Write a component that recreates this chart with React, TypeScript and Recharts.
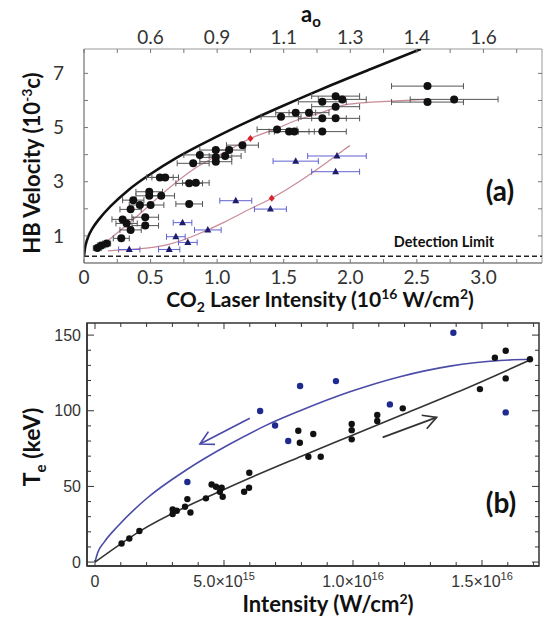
import React from 'react';
import { ComposedChart, Scatter, Line, XAxis, YAxis, ErrorBar, ReferenceLine, ReferenceArea } from 'recharts';

// ---------- panel (a): HB velocity vs CO2 laser intensity (10^16 W/cm^2) ----------
const hbX = [0.10, 0.13, 0.17, 0.28, 0.29, 0.32, 0.35, 0.35, 0.37, 0.42, 0.46, 0.46, 0.49, 0.49, 0.50,
    0.58, 0.57, 0.61, 0.79, 0.84, 0.79, 0.82, 0.87, 0.99, 0.99, 0.99, 1.06, 1.09, 1.19, 1.45, 1.54, 1.58,
    1.79, 1.48, 1.59, 1.69, 1.79, 1.89, 1.79, 1.89, 1.89, 1.94, 2.58, 2.58, 2.78];
const hbY = [0.55, 0.65, 0.72, 0.91, 1.61, 1.46, 1.22, 1.98, 2.32, 2.14, 1.69, 1.38, 2.63, 2.48, 2.14,
    2.48, 3.16, 3.16, 2.94, 2.96, 2.18, 3.68, 3.99, 4.17, 3.90, 3.74, 3.95, 4.17, 4.35, 4.93, 4.85, 4.85,
    4.85, 5.40, 5.55, 5.55, 5.34, 5.34, 5.95, 5.77, 6.16, 6.04, 6.53, 5.94, 6.04];
const hbErr = [0.03, 0.03, 0.03, 0.06, 0.08, 0.08, 0.08, 0.08, 0.08, 0.08, 0.1, 0.1, 0.1, 0.1, 0.1,
    0.1, 0.1, 0.1, 0.1, 0.1, 0.1, 0.12, 0.12, 0.12, 0.12, 0.12, 0.12, 0.12, 0.12, 0.15, 0.15, 0.15,
    0.18, 0.15, 0.15, 0.15, 0.18, 0.18, 0.18, 0.18, 0.18, 0.18, 0.27, 0.27, 0.33];

const triX = [0.34, 0.64, 0.69, 0.78, 0.74, 0.93, 1.14, 1.40, 1.59, 1.90, 1.89];
const triY = [0.50, 0.50, 0.97, 0.76, 1.49, 1.22, 2.30, 1.99, 3.76, 3.95, 3.37];
const triErr = [0.08, 0.08, 0.07, 0.07, 0.07, 0.1, 0.12, 0.12, 0.17, 0.22, 0.18];

const limitX = [0, 0.01, 0.03, 0.06, 0.11, 0.2, 0.33, 0.48, 0.7, 0.93, 1.17, 1.47, 1.85, 2.15, 2.53];
const limitY = [0.25, 0.62, 0.95, 1.25, 1.6, 2.1, 2.68, 3.22, 3.9, 4.5, 5.08, 5.75, 6.55, 7.15, 7.9];

const fitHiX = [0.14, 0.38, 0.6, 0.82, 1.0, 1.12, 1.25, 1.45, 1.6, 1.8, 1.95, 2.2, 2.6];
const fitHiY = [0.66, 1.65, 2.6, 3.45, 3.95, 4.25, 4.6, 4.97, 5.28, 5.58, 5.83, 5.95, 6.05];
const fitLoX = [0.18, 0.4, 0.63, 0.85, 1.05, 1.25, 1.41, 1.67, 1.95, 1.99];
const fitLoY = [0.45, 0.52, 0.68, 1.05, 1.5, 2.0, 2.39, 3.18, 4.17, 4.3];
const markX = [1.25, 1.41];
const markY = [4.6, 2.39];

const detectionLimit = 0.25;
const intensityTicks = [0, 0.25, 0.5, 0.75, 1, 1.25, 1.5, 1.75, 2, 2.25, 2.5, 2.75, 3, 3.25];
const a0At = [0.5, 1, 1.5, 2, 2.5, 3];
const a0Labels = ['0.6', '0.9', '1.1', '1.3', '1.4', '1.6'];
const velocityTicks = [1, 2, 3, 4, 5, 6, 7];

// ---------- panel (b): Te vs intensity (units of 10^15 W/cm^2) ----------
const teBlackX = [1.03, 1.33, 1.72, 3.01, 3.01, 3.17, 3.58, 3.49, 3.70, 4.30, 4.52, 4.69, 4.84, 4.91, 4.95,
    5.78, 5.97, 5.98, 7.88, 7.94, 8.27, 8.46, 8.75, 9.95, 9.95, 9.95, 10.94, 10.94, 11.93, 14.92, 15.50,
    15.92, 15.92, 16.86];
const teBlackY = [12.3, 15.6, 20.5, 34.8, 31.7, 33.9, 41.6, 36.6, 32.8, 42.1, 51.3, 49.8, 46.5, 49.1, 43.2,
    46.5, 49.1, 59.0, 86.8, 78.9, 69.6, 84.6, 69.6, 91.2, 87.2, 81.1, 97.2, 93.2, 101.6, 114.3, 135.0,
    139.7, 121.4, 134.0];
const teBlueX = [3.58, 6.40, 6.98, 7.49, 7.95, 9.34, 11.43, 13.89, 15.92];
const teBlueY = [52.9, 99.8, 90.3, 80.0, 116.4, 119.6, 104.2, 151.6, 98.9];

const fitBlackX = [0, 1.7, 5, 8, 10, 12, 14, 16.86];
const fitBlackY = [0, 20, 48, 70, 84, 98, 112, 133.5];
const fitBlueX = [0, 0.1, 0.35, 0.9, 2.0, 3.55, 5.23, 6.65, 7.95, 9.88, 11.82, 13.76, 15.7, 16.86];
const fitBlueY = [0, 6, 13, 24, 42, 61, 78, 90.5, 100, 112.5, 122.5, 129.5, 133.2, 134];

const blueArrowX = [6.0, 4.07];
const blueArrowY = [95, 78];
const blackArrowX = [11.15, 13.24];
const blackArrowY = [82.4, 95.6];

const teXTicks = Array.from({ length: 18 }, (_, i) => i);
const teYTicks = Array.from({ length: 16 }, (_, i) => i * 10);

const zip = (xs: number[], ys: number[], es?: number[]) =>
    xs.map((x, i) => ({ x, y: ys[i], err: es ? es[i] : 0 }));

const hbData = zip(hbX, hbY, hbErr);
const triData = zip(triX, triY, triErr);
const limitData = zip(limitX, limitY);
const fitHiData = zip(fitHiX, fitHiY);
const fitLoData = zip(fitLoX, fitLoY);
const markData = zip(markX, markY);
const teBlack = zip(teBlackX, teBlackY);
const teBlue = zip(teBlueX, teBlueY);
const fitBlack = zip(fitBlackX, fitBlackY);
const fitBlue = zip(fitBlueX, fitBlueY);

const FONT_A = 'Lato, "Open Sans", sans-serif';
const FONT_B = '"Liberation Sans", Arial, sans-serif';

// plot frames (chart pixel coords)
const PA = { top: 49, right: 542 };
const PB = { top: 13, right: 539 };

const AxTick = (props: any) => {
    const { x, y, payload } = props;
    const v = payload.value as number;
    const major = Number.isInteger(v * 2);
    const ai = a0At.findIndex((p) => Math.abs(p - v) < 1e-6);
    return (
        <g>
            <line x1={x} y1={y} x2={x} y2={y - 4} stroke="#777" />
            <line x1={x} y1={PA.top} x2={x} y2={PA.top + 4} stroke="#777" />
            {major && (
                <text x={x} y={y + 21} textAnchor="middle" fontSize={19} fill="#333" fontFamily={FONT_A}>
                    {v === 0 ? '0' : v.toFixed(1)}
                </text>
            )}
            {ai >= 0 && (
                <text x={x} y={PA.top - 5} textAnchor="middle" fontSize={19} fill="#333" fontFamily={FONT_A}>
                    {a0Labels[ai]}
                </text>
            )}
        </g>
    );
};

const AyTick = (props: any) => {
    const { x, y, payload } = props;
    const v = payload.value as number;
    return (
        <g>
            <line x1={x} y1={y} x2={x + 4} y2={y} stroke="#777" />
            <line x1={PA.right} y1={y} x2={PA.right - 4} y2={y} stroke="#777" />
            {v % 2 === 1 && (
                <text x={x - 20} y={y} dy="0.35em" textAnchor="end" fontSize={19} fill="#333" fontFamily={FONT_A}>
                    {v}
                </text>
            )}
        </g>
    );
};

const BxTick = (props: any) => {
    const { x, y, payload } = props;
    const v = payload.value as number;
    const major = v % 5 === 0;
    const len = major ? 6 : 4;
    return (
        <g>
            <line x1={x} y1={y} x2={x} y2={y - len} stroke="#333" />
            <line x1={x} y1={PB.top} x2={x} y2={PB.top + len} stroke="#333" />
            {major && (
                <text x={x} y={y + 21} textAnchor="middle" fontSize={16} fill="#333" fontFamily={FONT_B}>
                    {v === 0 ? '0' : (
                        <>
                            {v >= 10 ? `${(v / 10).toFixed(1)}×10` : `${v.toFixed(1)}×10`}
                            <tspan dy={-7} fontSize={11}>{v >= 10 ? '16' : '15'}</tspan>
                        </>
                    )}
                </text>
            )}
        </g>
    );
};

const ByTick = (props: any) => {
    const { x, y, payload } = props;
    const v = payload.value as number;
    const major = v % 50 === 0;
    const len = major ? 7 : 4;
    return (
        <g>
            <line x1={x} y1={y} x2={x + len} y2={y} stroke="#333" />
            <line x1={PB.right} y1={y} x2={PB.right - len} y2={y} stroke="#333" />
            {major && (
                <text x={x - 6} y={y} dy="0.35em" textAnchor="end" fontSize={16} fill="#333" fontFamily={FONT_B}>
                    {v}
                </text>
            )}
        </g>
    );
};

const dot = (r: number, fill: string) => (p: any) => <circle cx={p.cx} cy={p.cy} r={r} fill={fill} />;
const triangle = (p: any) => (
    <path d={`M${p.cx},${p.cy - 4} L${p.cx + 3.5},${p.cy + 2.5} L${p.cx - 3.5},${p.cy + 2.5} Z`} fill="#1d1d6b" />
);
const diamond = (p: any) => (
    <path d={`M${p.cx},${p.cy - 3.5} L${p.cx + 3},${p.cy} L${p.cx},${p.cy + 3.5} L${p.cx - 3},${p.cy} Z`} fill="#d8232a" />
);

const arrow = (color: string) => (p: any) => {
    const { x1, y1, x2, y2 } = p;
    const ang = Math.atan2(y2 - y1, x2 - x1);
    const L = 15;
    const s = 0.5;
    const bx1 = x2 + L * Math.cos(ang + Math.PI - s);
    const by1 = y2 + L * Math.sin(ang + Math.PI - s);
    const bx2 = x2 + L * Math.cos(ang + Math.PI + s);
    const by2 = y2 + L * Math.sin(ang + Math.PI + s);
    return (
        <g>
            <line x1={x1} y1={y1} x2={x2} y2={y2} stroke={color} strokeWidth={1.7} />
            <polyline points={`${bx1},${by1} ${x2},${y2} ${bx2},${by2}`} fill="none" stroke={color} strokeWidth={1.7} />
        </g>
    );
};

const App: React.FC = () => {
    return (
        <div style={{ position: 'absolute', left: 0, top: 0, width: 543, height: 629, background: '#fff' }}>
            <div style={{ position: 'absolute', left: 0, top: 0 }}>
                <ComposedChart width={543} height={310} margin={{ top: 49, right: 1, bottom: 17, left: 0 }}>
                    <XAxis dataKey="x" type="number" domain={[0, 3.44]} ticks={intensityTicks} interval={0}
                        height={30} tickSize={0} tickMargin={0} tick={AxTick} axisLine={{ stroke: '#777' }}
                        allowDataOverflow />
                    <YAxis dataKey="y" type="number" domain={[0, 7.9]} ticks={velocityTicks} interval={0}
                        width={84} tickSize={0} tickMargin={0} tick={AyTick} axisLine={{ stroke: '#888' }}
                        allowDataOverflow />
                    <ReferenceArea x1={0} x2={3.44} y1={0} y2={7.9} fill="none" stroke="#999" />
                    <ReferenceLine y={detectionLimit} stroke="#222" strokeWidth={1.6} strokeDasharray="5 3" />
                    <Line data={limitData} dataKey="y" type="natural" stroke="#111" strokeWidth={2.6}
                        dot={false} isAnimationActive={false} />
                    <Line data={fitHiData} dataKey="y" type="natural" stroke="#c98a97" strokeWidth={1.2}
                        dot={false} isAnimationActive={false} />
                    <Line data={fitLoData} dataKey="y" type="natural" stroke="#c98a97" strokeWidth={1.2}
                        dot={false} isAnimationActive={false} />
                    <Scatter data={triData} shape={triangle} isAnimationActive={false}>
                        <ErrorBar dataKey="err" direction="x" width={3} stroke="#6262d0" strokeWidth={1} />
                    </Scatter>
                    <Scatter data={hbData} shape={dot(4, '#111')} isAnimationActive={false}>
                        <ErrorBar dataKey="err" direction="x" width={3} stroke="#555" strokeWidth={1} />
                    </Scatter>
                    <Scatter data={markData} shape={diamond} isAnimationActive={false} />
                </ComposedChart>
            </div>
            <div style={{ position: 'absolute', left: 0, top: 310 }}>
                <ComposedChart width={543} height={319} margin={{ top: 13, right: 4, bottom: 33, left: 0 }}>
                    <XAxis dataKey="x" type="number" domain={[-0.31, 17.21]} ticks={teXTicks} interval={0}
                        height={30} tickSize={0} tickMargin={0} tick={BxTick}
                        axisLine={{ stroke: '#333', strokeWidth: 1.5 }} allowDataOverflow />
                    <YAxis dataKey="y" type="number" domain={[-2.6, 158]} ticks={teYTicks} interval={0}
                        width={87} tickSize={0} tickMargin={0} tick={ByTick}
                        axisLine={{ stroke: '#333', strokeWidth: 1.5 }} allowDataOverflow />
                    <ReferenceArea x1={-0.31} x2={17.21} y1={-2.6} y2={158} fill="none" stroke="#333" strokeWidth={1.5} />
                    <Line data={fitBlue} dataKey="y" type="monotone" stroke="#4b4ba8" strokeWidth={1.6}
                        dot={false} isAnimationActive={false} />
                    <Line data={fitBlack} dataKey="y" type="monotone" stroke="#333" strokeWidth={1.6}
                        dot={false} isAnimationActive={false} />
                    <ReferenceLine segment={[{ x: blueArrowX[0], y: blueArrowY[0] }, { x: blueArrowX[1], y: blueArrowY[1] }]}
                        shape={arrow('#4b4ba8')} />
                    <ReferenceLine segment={[{ x: blackArrowX[0], y: blackArrowY[0] }, { x: blackArrowX[1], y: blackArrowY[1] }]}
                        shape={arrow('#333')} />
                    <Scatter data={teBlue} shape={dot(3.2, '#1f2a8f')} isAnimationActive={false} />
                    <Scatter data={teBlack} shape={dot(3.2, '#111')} isAnimationActive={false} />
                </ComposedChart>
            </div>
            <svg width={543} height={629} style={{ position: 'absolute', left: 0, top: 0, pointerEvents: 'none' }}>
                <g fontFamily={FONT_A} fontWeight="bold" fill="#111">
                    <text x={311} y={22} textAnchor="middle" fontSize={22}>
                        a<tspan dy={5} fontSize={15}>o</tspan>
                    </text>
                    <text transform="translate(40,163) rotate(-90)" textAnchor="middle" fontSize={22}>
                        HB Velocity (10<tspan dy={-8} fontSize={14}>-3</tspan><tspan dy={8}>c)</tspan>
                    </text>
                    <text x={320} y={307} textAnchor="middle" fontSize={21}>
                        CO<tspan dy={5} fontSize={14}>2</tspan>
                        <tspan dy={-5}> Laser Intensity (10</tspan>
                        <tspan dy={-8} fontSize={14}>16</tspan>
                        <tspan dy={8}> W/cm</tspan>
                        <tspan dy={-8} fontSize={14}>2</tspan>
                        <tspan dy={8}>)</tspan>
                    </text>
                    <text x={500} y={201} textAnchor="middle" fontSize={28}>(a)</text>
                    <text x={444} y={247} textAnchor="middle" fontSize={14.5}>Detection Limit</text>
                    <text transform="translate(40,447) rotate(-90)" textAnchor="middle" fontSize={23}>
                        T<tspan dy={6} fontSize={15}>e</tspan><tspan dy={-6}> (keV)</tspan>
                    </text>
                    <text x={328} y={612} textAnchor="middle" fontSize={22}>
                        Intensity (W/cm<tspan dy={-8} fontSize={14}>2</tspan><tspan dy={8}>)</tspan>
                    </text>
                    <text x={501} y={513} textAnchor="middle" fontSize={28}>(b)</text>
                </g>
            </svg>
        </div>
    );
};

export default App;
